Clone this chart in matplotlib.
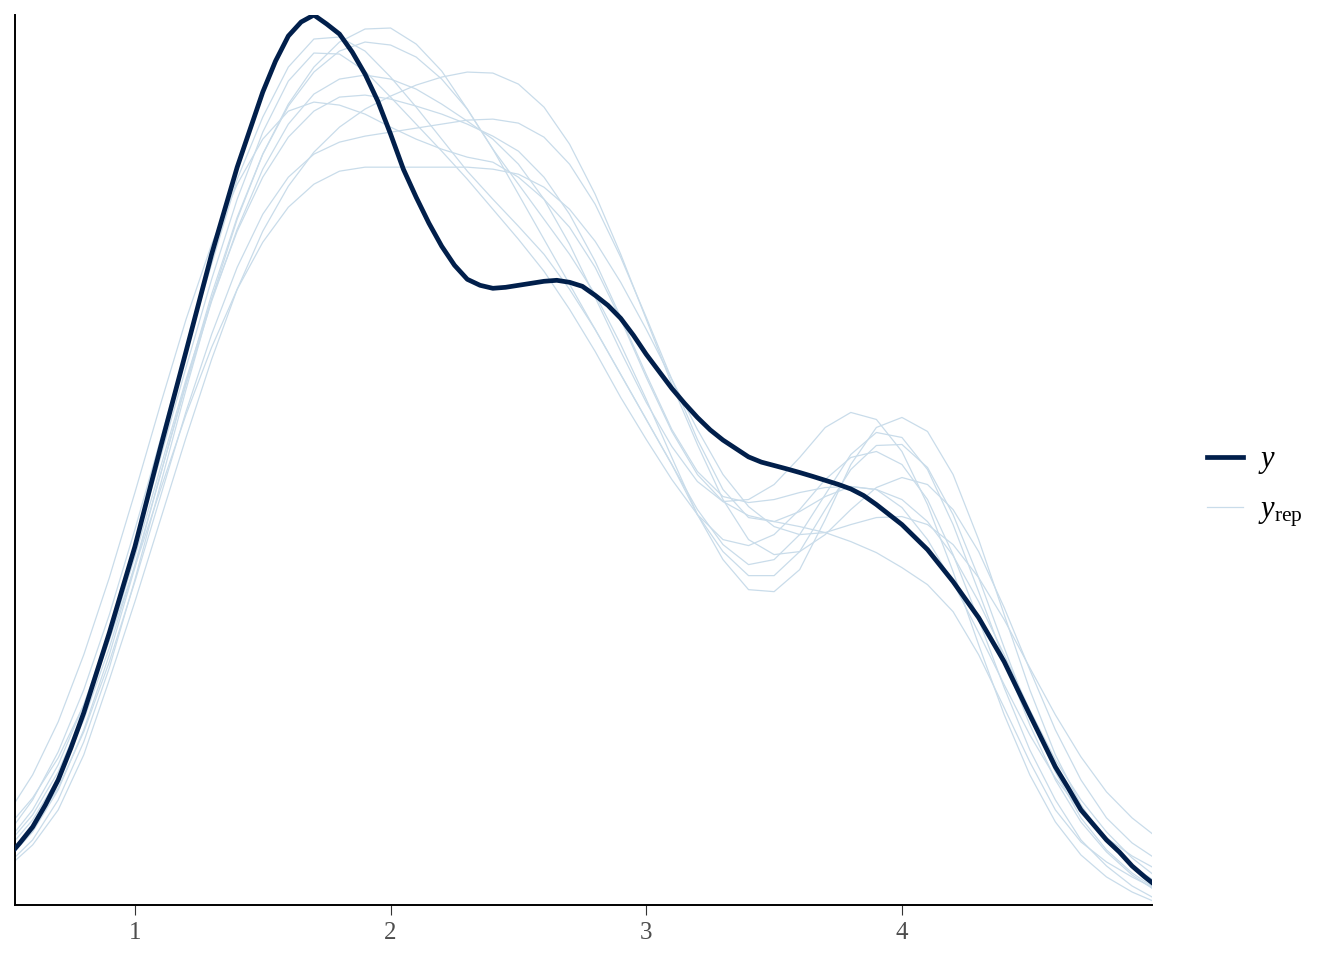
import numpy as np
import matplotlib
matplotlib.use("Agg")
import matplotlib.pyplot as plt

plt.rcParams['font.family'] = ['Liberation Serif', 'DejaVu Serif']
plt.rcParams['mathtext.fontset'] = 'custom'
plt.rcParams['mathtext.rm'] = 'Liberation Serif'
plt.rcParams['mathtext.it'] = 'Liberation Serif:italic'

# ---- data (density units are arbitrary) ----
grid_x = [0.5, 0.6, 0.7, 0.8, 0.9, 1.0, 1.1, 1.2, 1.3, 1.4, 1.5, 1.6, 1.7, 1.8, 1.9,
          2.0, 2.1, 2.2, 2.3, 2.4, 2.5, 2.6, 2.7, 2.8, 2.9, 3.0, 3.1, 3.2, 3.3, 3.4,
          3.5, 3.6, 3.7, 3.8, 3.9, 4.0, 4.1, 4.2, 4.3, 4.4, 4.5, 4.6, 4.7, 4.8, 4.9, 5.0]

y_x = [0.5, 0.55, 0.6, 0.65, 0.7, 0.75, 0.8, 0.85, 0.9, 0.95, 1.0, 1.1, 1.2, 1.3, 1.4,
       1.5, 1.55, 1.6, 1.65, 1.7, 1.75, 1.8, 1.85, 1.9, 1.95, 2.0, 2.05, 2.1, 2.15, 2.2,
       2.25, 2.3, 2.35, 2.4, 2.45, 2.5, 2.55, 2.6, 2.65, 2.7, 2.75, 2.8, 2.85, 2.9, 2.95,
       3.0, 3.05, 3.1, 3.15, 3.2, 3.25, 3.3, 3.35, 3.4, 3.45, 3.5, 3.55, 3.6, 3.65, 3.7,
       3.75, 3.8, 3.85, 3.9, 4.0, 4.1, 4.2, 4.3, 4.4, 4.5, 4.6, 4.65, 4.7, 4.75, 4.8,
       4.85, 4.9, 4.95, 5.0]
y_dens = [0.0235, 0.031, 0.039, 0.05, 0.0625, 0.0785, 0.096, 0.116, 0.136, 0.1575,
          0.179, 0.2285, 0.2765, 0.325, 0.3685, 0.406, 0.4215, 0.434, 0.441, 0.4445,
          0.44, 0.435, 0.426, 0.415, 0.4015, 0.385, 0.3675, 0.3535, 0.3405, 0.329,
          0.3195, 0.3125, 0.3095, 0.308, 0.3085, 0.3095, 0.3105, 0.3115, 0.312, 0.311,
          0.309, 0.3045, 0.2995, 0.293, 0.2845, 0.275, 0.2665, 0.258, 0.2505, 0.2435,
          0.2373, 0.2322, 0.228, 0.2238, 0.2212, 0.2195, 0.2178, 0.216, 0.2141, 0.2121,
          0.2101, 0.2078, 0.2045, 0.2, 0.19, 0.1775, 0.1615, 0.1435, 0.1215, 0.095,
          0.069, 0.0585, 0.0475, 0.04, 0.0325, 0.0265, 0.0195, 0.014, 0.009]

yrep1 = [0.035, 0.0525, 0.0765, 0.1075, 0.145, 0.1875, 0.2325, 0.2775, 0.32, 0.3625,
         0.3935, 0.4185, 0.4325, 0.4335, 0.4265, 0.4135, 0.3985, 0.3825, 0.3665, 0.3525,
         0.339, 0.325, 0.3075, 0.2875, 0.265, 0.2425, 0.22, 0.1975, 0.18, 0.17,
         0.1725, 0.185, 0.205, 0.225, 0.236, 0.2335, 0.2175, 0.19, 0.1565, 0.1225,
         0.09, 0.0625, 0.0415, 0.0265, 0.015, 0.0065]
yrep2 = [0.0315, 0.0475, 0.07, 0.1, 0.1365, 0.1785, 0.2235, 0.2685, 0.3125, 0.3525,
         0.386, 0.4115, 0.4255, 0.425, 0.4165, 0.4035, 0.39, 0.3765, 0.3625, 0.3475,
         0.3325, 0.3165, 0.2975, 0.2765, 0.2535, 0.2325, 0.2125, 0.195, 0.1825, 0.1795,
         0.185, 0.1975, 0.2125, 0.2235, 0.2265, 0.22, 0.2025, 0.175, 0.1425, 0.1085,
         0.0775, 0.0525, 0.0325, 0.0195, 0.0095, 0.0025]
yrep3 = [0.02, 0.0325, 0.0525, 0.0815, 0.1185, 0.1625, 0.21, 0.2575, 0.3025, 0.3425,
         0.375, 0.4, 0.4185, 0.431, 0.4375, 0.438, 0.43, 0.4165, 0.3975, 0.3775,
         0.36, 0.3425, 0.325, 0.305, 0.28, 0.2525, 0.2235, 0.195, 0.1725, 0.1575,
         0.1565, 0.1675, 0.1925, 0.22, 0.2385, 0.2435, 0.2365, 0.215, 0.1825, 0.145,
         0.1075, 0.075, 0.05, 0.0315, 0.0195, 0.011]
yrep4 = [0.0225, 0.0365, 0.0575, 0.0875, 0.125, 0.1685, 0.215, 0.261, 0.305, 0.3435,
         0.375, 0.399, 0.416, 0.4265, 0.431, 0.4295, 0.4235, 0.4125, 0.3975, 0.3775,
         0.355, 0.3325, 0.31, 0.2875, 0.265, 0.2425, 0.22, 0.195, 0.1765, 0.1645,
         0.1645, 0.1765, 0.1975, 0.2175, 0.2295, 0.23, 0.2185, 0.195, 0.1635, 0.1285,
         0.095, 0.0665, 0.0435, 0.0275, 0.016, 0.0075]
yrep5 = [0.0275, 0.0425, 0.0635, 0.0925, 0.1285, 0.17, 0.215, 0.26, 0.3015, 0.3375,
         0.3675, 0.39, 0.405, 0.4125, 0.4145, 0.4125, 0.4075, 0.4, 0.3915, 0.3825,
         0.37, 0.3525, 0.33, 0.3035, 0.2765, 0.251, 0.229, 0.2115, 0.2015, 0.2025,
         0.21, 0.2235, 0.2385, 0.246, 0.2425, 0.2265, 0.2, 0.1665, 0.13, 0.095,
         0.065, 0.0415, 0.025, 0.014, 0.0065, 0.001]
yrep6 = [0.045, 0.065, 0.0915, 0.125, 0.1635, 0.206, 0.25, 0.2925, 0.33, 0.36,
         0.3825, 0.3965, 0.401, 0.3995, 0.395, 0.3885, 0.3825, 0.3775, 0.3735, 0.371,
         0.3635, 0.3525, 0.3385, 0.3185, 0.2925, 0.2635, 0.2365, 0.215, 0.2015, 0.1945,
         0.1915, 0.189, 0.186, 0.1815, 0.176, 0.1685, 0.16, 0.1465, 0.125, 0.0985,
         0.0715, 0.0475, 0.0315, 0.0215, 0.014, 0.0075]
yrep7 = [0.0185, 0.03, 0.0475, 0.075, 0.1125, 0.1515, 0.1925, 0.2335, 0.2725, 0.3075,
         0.3365, 0.359, 0.376, 0.3885, 0.3975, 0.404, 0.4095, 0.4135, 0.416, 0.4155,
         0.41, 0.3985, 0.38, 0.355, 0.325, 0.2925, 0.26, 0.23, 0.2025, 0.1825,
         0.175, 0.1765, 0.185, 0.1975, 0.2085, 0.2135, 0.21, 0.1975, 0.1765, 0.1485,
         0.1175, 0.0875, 0.0625, 0.0435, 0.031, 0.0225]
yrep8 = [0.025, 0.0385, 0.0585, 0.0865, 0.1215, 0.1615, 0.204, 0.2465, 0.285, 0.3185,
         0.345, 0.3635, 0.375, 0.381, 0.384, 0.386, 0.388, 0.39, 0.392, 0.3925,
         0.3905, 0.3835, 0.37, 0.35, 0.3235, 0.2935, 0.2625, 0.2325, 0.2075, 0.1935,
         0.1915, 0.1965, 0.204, 0.209, 0.2075, 0.1985, 0.1825, 0.161, 0.136, 0.11,
         0.085, 0.0635, 0.0465, 0.0335, 0.0245, 0.0175]
yrep9 = [0.0385, 0.0535, 0.0735, 0.1, 0.1325, 0.169, 0.2075, 0.245, 0.2785, 0.3075,
         0.331, 0.3485, 0.36, 0.3665, 0.3685, 0.3685, 0.3685, 0.3685, 0.3685, 0.3675,
         0.365, 0.3585, 0.3475, 0.3315, 0.311, 0.2875, 0.2625, 0.2375, 0.215, 0.199,
         0.189, 0.185, 0.186, 0.19, 0.1935, 0.194, 0.19, 0.18, 0.1635, 0.1425,
         0.1185, 0.095, 0.074, 0.0565, 0.0435, 0.0335]
yrep10 = [0.03, 0.045, 0.0665, 0.096, 0.1325, 0.174, 0.2185, 0.2625, 0.3025, 0.3365,
          0.3635, 0.3835, 0.3965, 0.4035, 0.4045, 0.4025, 0.399, 0.395, 0.39, 0.384,
          0.3765, 0.3635, 0.345, 0.3215, 0.2935, 0.265, 0.2375, 0.2165, 0.204, 0.201,
          0.2025, 0.206, 0.2085, 0.209, 0.2075, 0.2025, 0.1915, 0.1745, 0.1515, 0.125,
          0.0975, 0.0725, 0.0525, 0.0365, 0.0235, 0.0135]

yrep_list = [yrep1, yrep2, yrep3, yrep4, yrep5, yrep6, yrep7, yrep8, yrep9, yrep10]
xticks = [1, 2, 3, 4]
xtick_labels = ["1", "2", "3", "4"]

# ---- style ----
COL_Y = "#011f4b"
COL_YREP = "#c9dcea"

fig = plt.figure(figsize=(13.44, 9.6), dpi=100)
ax = fig.add_axes([15/1344, 55/960, (1152-15)/1344, 890/960])

for i, yr in enumerate(yrep_list):
    ax.plot(grid_x, yr, color=COL_YREP, lw=0.9, solid_joinstyle='round',
            label=r"$y_{\mathrm{rep}}$" if i == 0 else None, zorder=2)
ax.plot(y_x, y_dens, color=COL_Y, lw=3.4, solid_joinstyle='round',
        label=r"$y$", zorder=3)

ax.set_xlim(0.531, 4.978)
ax.set_ylim(0, 0.4445)
ax.set_xticks(xticks)
ax.set_xticklabels(xtick_labels)
ax.set_yticks([])
for s in ['top', 'right']:
    ax.spines[s].set_visible(False)
for s in ['left', 'bottom']:
    ax.spines[s].set_linewidth(1.4)
    ax.spines[s].set_color('black')
ax.tick_params(axis='x', length=7, width=0.8, color='#333333',
               labelsize=18, labelcolor='#4d4d4d', pad=5)

handles, labels = ax.get_legend_handles_labels()
order = [1, 0]
leg = fig.legend([handles[i] for i in order], [labels[i] for i in order],
                 loc='center left', bbox_to_anchor=(1179/1344, 1 - 487/960),
                 frameon=False, fontsize=22, handlelength=1.2, handletextpad=0.5,
                 labelspacing=0.62)
ax.patch.set_visible(False)

fig.savefig("out.png", dpi=100)
